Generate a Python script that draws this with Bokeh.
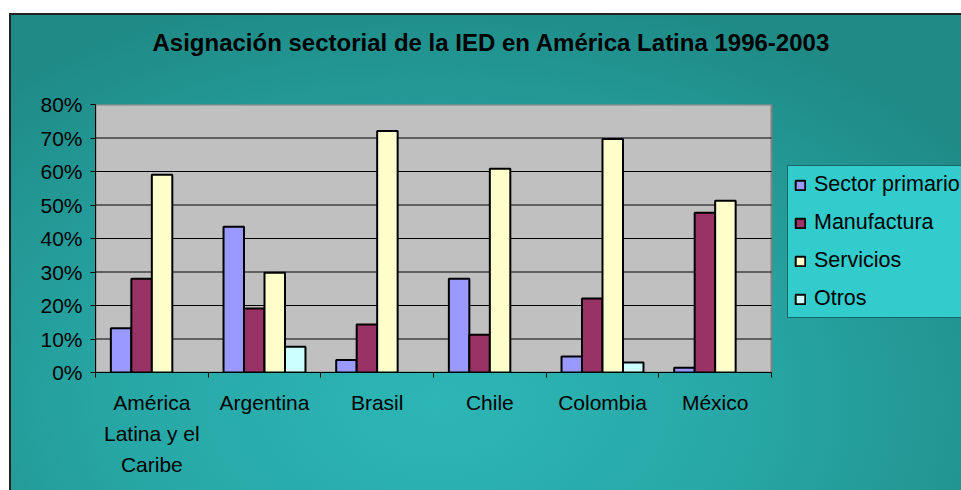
from bokeh.plotting import figure
from bokeh.models import Range1d, FixedTicker, Legend, LegendItem, ColumnDataSource, Spacer, Title
from bokeh.layouts import column, row
from bokeh.embed import file_html
from bokeh.resources import INLINE

title_text = "Asignación sectorial de la IED en América Latina 1996-2003"
categories = ["América\nLatina y el\nCaribe", "Argentina", "Brasil", "Chile", "Colombia", "México"]
series = ["Sector primario", "Manufactura", "Servicios", "Otros"]
sector_primario = [13.2, 43.5, 3.7, 28.0, 4.8, 1.4]
manufactura = [28.0, 19.1, 14.3, 11.3, 22.1, 47.7]
servicios = [59.0, 29.8, 72.1, 60.8, 69.7, 51.3]
otros = [0.0, 7.7, 0.0, 0.0, 3.0, 0.0]
y_ticks = [0, 10, 20, 30, 40, 50, 60, 70, 80]
colors = ["#9999FF", "#993366", "#FFFFCC", "#CCFFFF"]

values = [sector_primario, manufactura, servicios, otros]
n = len(categories)
bar_w = 1 / 5.5

# layout constants (pixels)
fig_w, fig_h = 952, 477
border_left, border_top, border_bottom = 86, 90, 118
plot_w = 676
frame_w = fig_w - border_left
x_end = n * frame_w / plot_w

p = figure(width=fig_w, height=fig_h, output_backend="svg", toolbar_location=None,
           x_range=Range1d(0, x_end), y_range=Range1d(y_ticks[0], y_ticks[-1]),
           min_border_left=border_left, min_border_right=0,
           min_border_top=border_top, min_border_bottom=border_bottom)
p.border_fill_color = None
p.background_fill_color = None
p.outline_line_color = None
p.styles = {"background": "radial-gradient(ellipse 70% 90% at 45% 82%, #2DB6B6 0%, #27A8A6 45%, #1F8A86 100%)",
            "box-shadow": "inset 2px 2px 0 #222"}

# plot area (gray) and gridlines
p.quad(left=0, right=n, bottom=y_ticks[0], top=y_ticks[-1], fill_color="#C0C0C0",
       line_color="#808080", line_width=2, level="underlay")
grid_y = y_ticks[1:-1]
p.segment(x0=[0] * len(grid_y), x1=[n] * len(grid_y), y0=grid_y, y1=grid_y,
          line_color="black", line_width=1, level="underlay")

items = []
for j, (name, vals) in enumerate(zip(series, values)):
    xs = [i + 0.5 + (j - 1.5) * bar_w for i in range(n)]
    tops = [v if v > 0 else float("nan") for v in vals]
    src = ColumnDataSource(dict(x=xs, top=tops))
    r = p.vbar(x="x", top="top", bottom=0, width=bar_w, source=src,
               fill_color=colors[j], line_color="black", line_width=2)
    items.append(LegendItem(label=name, renderers=[r]))

p.xgrid.visible = False
p.ygrid.visible = False

# Y axis
p.yaxis.ticker = FixedTicker(ticks=y_ticks)
p.yaxis.major_label_overrides = {t: f"{t}%" for t in y_ticks}
p.yaxis.major_label_text_font = "Liberation Sans"
p.yaxis.major_label_text_font_size = "21px"
p.yaxis.major_label_text_color = "black"
p.yaxis.major_tick_out = 5
p.yaxis.major_tick_in = 0
p.yaxis.minor_tick_line_color = None
p.yaxis.axis_line_color = "black"
p.yaxis.major_tick_line_color = "black"
p.yaxis.major_label_standoff = 8

# X axis
centers = [i + 0.5 for i in range(n)]
p.xaxis.bounds = (0, n)
p.xaxis.ticker = FixedTicker(ticks=centers, minor_ticks=list(range(n + 1)))
p.xaxis.major_label_overrides = {c: lab for c, lab in zip(centers, categories)}
p.xaxis.major_label_text_font = "Liberation Sans"
p.xaxis.major_label_text_font_size = "21px"
p.xaxis.major_label_text_color = "black"
p.xaxis.major_label_text_line_height = 1.36
p.xaxis.major_tick_out = 0
p.xaxis.major_tick_in = 0
p.xaxis.minor_tick_out = 5
p.xaxis.minor_tick_in = 0
p.xaxis.minor_tick_line_color = "black"
p.xaxis.axis_line_color = "black"
p.xaxis.major_label_standoff = 13

# Title (outermost) plus a blank spacer between it and the plot area
p.add_layout(Title(text=" ", text_font_size="10px", standoff=22), "above")
p.title.text = title_text
p.title.text_font = "Liberation Sans"
p.title.text_font_style = "bold"
p.title.text_font_size = "24px"
p.title.text_color = "black"
p.title.align = "left"
p.title.offset = 57
p.title.standoff = 27

legend = Legend(items=items, location=(692, 54))
legend.background_fill_color = "#33CCCC"
legend.background_fill_alpha = 1
legend.border_line_color = "black"
legend.border_line_width = 1
legend.label_text_font = "Liberation Sans"
legend.label_text_font_size = "21.5px"
legend.label_text_color = "black"
legend.glyph_width = 12
legend.glyph_height = 12
legend.label_height = 20
legend.spacing = 13
legend.padding = 6
legend.margin = 0
legend.label_standoff = 8
p.add_layout(legend, "center")

layout = row(Spacer(width=9), column(Spacer(height=13), p))
open("out.html", "w").write(file_html(layout, INLINE))
